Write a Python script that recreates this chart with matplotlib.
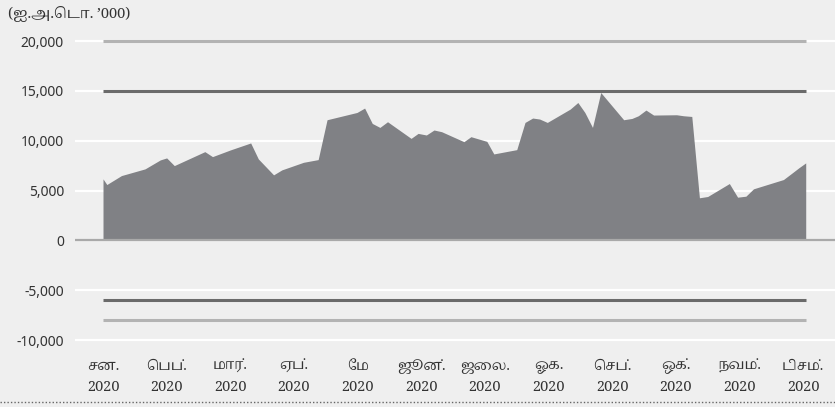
import matplotlib
matplotlib.use('Agg')
import matplotlib.pyplot as plt
from matplotlib.lines import Line2D

# month position (0 = start of Jan 2020) and value in US$ '000
pos = [0.00, 0.06, 0.29, 0.66, 0.90, 1.00, 1.12, 1.60, 1.72, 2.00,
       2.32, 2.44, 2.68, 2.81, 3.15, 3.38, 3.52, 3.99, 4.11, 4.23,
       4.35, 4.47, 4.84, 4.95, 5.08, 5.20, 5.32, 5.67, 5.78, 6.03,
       6.14, 6.50, 6.63, 6.75, 6.86, 6.98, 7.34, 7.46, 7.57, 7.69,
       7.82, 8.18, 8.31, 8.41, 8.53, 8.65, 9.01, 9.12, 9.25, 9.37,
       9.50, 9.84, 9.97, 10.10, 10.22, 10.69, 10.82, 10.93, 11.04]
vals = [6170, 5600, 6500, 7170, 8070, 8270, 7500, 8900, 8400, 9070,
        9770, 8170, 6570, 7070, 7830, 8100, 12100, 12830, 13270, 11730,
        11330, 11900, 10230, 10730, 10570, 11070, 10900, 9900, 10400, 9930,
        8670, 9100, 11830, 12270, 12170, 11830, 13170, 13830, 12830, 11330,
        14830, 12100, 12230, 12500, 13070, 12570, 12600, 12500, 12430, 4270,
        4400, 5700, 4330, 4430, 5170, 6100, 6730, 7270, 7770]

# reference levels: (value, colour)
levels = [(20000, '#b3b3b3'), (15000, '#6b6b6b'), (-6000, '#6b6b6b'), (-8000, '#b3b3b3')]

months = ['சன.', 'பெப்.', 'மார்.', 'ஏப்.', 'மே', 'ஜூன்.',
          'ஜலை.', 'ஓக.', 'செப்.', 'ஒக்.', 'நவம்.', 'டிசம்.']
year = '2020'
yticks = [-10000, -5000, 0, 5000, 10000, 15000, 20000]
unit = "(ஐ.அ.டொ. ’000)"

PREBASE = {'\u0BC6', '\u0BC7', '\u0BC8'}
SPLIT = {'\u0BCA': ('\u0BC6', '\u0BBE'), '\u0BCB': ('\u0BC7', '\u0BBE'),
         '\u0BCC': ('\u0BC6', '\u0BD7')}


def visual(s):
    # no shaping engine: put the left-side vowel signs before their consonant
    out = []
    for ch in s:
        if ch in SPLIT:
            pre, post = SPLIT[ch]
            out.insert(len(out) - 1, pre)
            out.append(post)
        elif ch in PREBASE and out:
            out.insert(len(out) - 1, ch)
        else:
            out.append(ch)
    return ''.join(out)


bg = '#efefef'
fig = plt.figure(figsize=(8.35, 4.07), dpi=100, facecolor=bg)
ax = fig.add_axes([75 / 835, 0.1523, 760 / 835, 0.7592], facecolor=bg)

for v in [-10000, -5000, 5000, 10000, 15000, 20000]:
    ax.axhline(v, color='white', lw=1.6, zorder=0)
ax.axhline(0, color='#a9a9a9', lw=1.6, zorder=3)

ax.fill_between(pos, vals, 0, color='#808185', lw=0, zorder=2)

for v, c in levels:
    ax.hlines(v, pos[0], pos[-1], color=c, lw=2.2, zorder=4)

ax.set_xlim(-0.44, 11.5)
ax.set_ylim(-10500, 20500)
ax.set_yticks(yticks)
ax.set_yticklabels([f'{v:,}' for v in yticks], family=['Noto Sans', 'DejaVu Sans'],
                   fontsize=10, color='#333333')
ax.tick_params(axis='y', length=0, pad=8)
ax.set_xticks([])
for s in ax.spines.values():
    s.set_visible(False)

tamil = ['Noto Serif Tamil', 'Liberation Serif']
for i, m in enumerate(months):
    ax.text(i, -0.068, visual(m), transform=ax.get_xaxis_transform(), ha='center',
            va='center', fontsize=10, family=tamil, color='#333333')
    ax.text(i, -0.138, year, transform=ax.get_xaxis_transform(), ha='center',
            va='center', fontsize=10.5, family=tamil, color='#333333')

fig.text(8 / 835, 1 - 14 / 407, visual(unit), ha='left', va='center', fontsize=10.5,
         fontweight='bold', family=tamil, color='#333333')

fig.add_artist(Line2D([0, 1], [5 / 407, 5 / 407], transform=fig.transFigure,
                      color='#666666', lw=1, ls=(0, (1, 1.5))))

fig.savefig('out.png', dpi=100, facecolor=bg)
